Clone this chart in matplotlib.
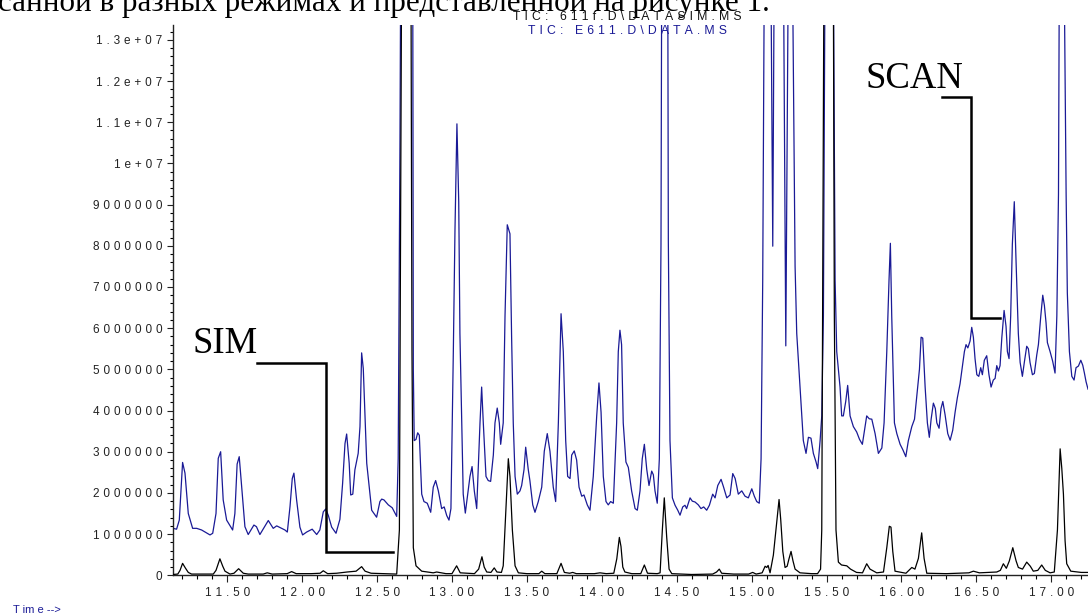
import matplotlib
matplotlib.use('Agg')
import matplotlib.pyplot as plt
from matplotlib.ticker import FixedLocator, FixedFormatter, MultipleLocator

# ---- data (intensity in millions of counts) ----
scan_time = [11.138, 11.162, 11.180, 11.202, 11.218, 11.240, 11.269, 11.296, 11.329, 11.385, 11.403, 11.425,
             11.440, 11.456, 11.473, 11.496, 11.536, 11.551, 11.566, 11.580, 11.596, 11.618, 11.640, 11.678,
             11.695, 11.718, 11.774, 11.807, 11.830, 11.885, 11.901, 11.919, 11.934, 11.945, 11.963, 11.985,
             12.003, 12.030, 12.067, 12.097, 12.118, 12.141, 12.157, 12.175, 12.197, 12.226, 12.252, 12.270,
             12.286, 12.297, 12.314, 12.324, 12.338, 12.352, 12.374, 12.386, 12.397, 12.408, 12.431, 12.464,
             12.497, 12.519, 12.531, 12.546, 12.575, 12.601, 12.631, 12.641, 12.653, 12.658, 12.738, 12.742,
             12.748, 12.760, 12.771, 12.782, 12.798, 12.813, 12.835, 12.858, 12.875, 12.891, 12.909, 12.931,
             12.948, 12.965, 12.980, 12.993, 13.009, 13.020, 13.033, 13.045, 13.053, 13.065, 13.075, 13.089,
             13.102, 13.120, 13.134, 13.149, 13.165, 13.187, 13.198, 13.209, 13.227, 13.242, 13.258, 13.276,
             13.287, 13.302, 13.316, 13.325, 13.342, 13.354, 13.369, 13.387, 13.398, 13.409, 13.421, 13.436,
             13.454, 13.465, 13.481, 13.492, 13.509, 13.520, 13.539, 13.554, 13.576, 13.599, 13.616, 13.636,
             13.654, 13.676, 13.692, 13.710, 13.728, 13.743, 13.759, 13.772, 13.788, 13.799, 13.816, 13.832,
             13.848, 13.866, 13.881, 13.903, 13.921, 13.943, 13.966, 13.981, 13.995, 14.010, 14.028, 14.043,
             14.059, 14.077, 14.099, 14.110, 14.121, 14.132, 14.143, 14.161, 14.177, 14.199, 14.222, 14.237,
             14.255, 14.270, 14.284, 14.300, 14.315, 14.333, 14.344, 14.355, 14.370, 14.384, 14.395, 14.400,
             14.440, 14.444, 14.455, 14.471, 14.489, 14.507, 14.522, 14.540, 14.555, 14.566, 14.589, 14.604,
             14.622, 14.644, 14.662, 14.680, 14.700, 14.718, 14.740, 14.756, 14.774, 14.796, 14.812, 14.834,
             14.856, 14.874, 14.890, 14.911, 14.934, 14.956, 14.978, 15.001, 15.018, 15.034, 15.051, 15.063,
             15.074, 15.085, 15.128, 15.141, 15.151, 15.212, 15.228, 15.245, 15.272, 15.290, 15.301, 15.323,
             15.345, 15.363, 15.379, 15.396, 15.412, 15.430, 15.441, 15.457, 15.468, 15.479, 15.490, 15.545,
             15.557, 15.568, 15.590, 15.601, 15.612, 15.628, 15.641, 15.657, 15.679, 15.701, 15.720, 15.739,
             15.757, 15.768, 15.785, 15.802, 15.824, 15.846, 15.869, 15.884, 15.902, 15.917, 15.926, 15.935,
             15.953, 15.969, 15.991, 16.009, 16.029, 16.046, 16.069, 16.087, 16.106, 16.120, 16.131, 16.142,
             16.158, 16.173, 16.186, 16.198, 16.213, 16.226, 16.236, 16.251, 16.264, 16.276, 16.291, 16.309,
             16.325, 16.342, 16.358, 16.373, 16.391, 16.407, 16.420, 16.431, 16.443, 16.458, 16.469, 16.480,
             16.491, 16.503, 16.516, 16.529, 16.540, 16.553, 16.569, 16.584, 16.598, 16.613, 16.625, 16.636,
             16.647, 16.658, 16.670, 16.685, 16.698, 16.707, 16.718, 16.729, 16.740, 16.753, 16.765, 16.780,
             16.792, 16.807, 16.820, 16.836, 16.847, 16.858, 16.874, 16.887, 16.903, 16.914, 16.930, 16.943,
             16.954, 16.965, 16.974, 16.992, 17.009, 17.025, 17.037, 17.048, 17.054, 17.085, 17.092, 17.099,
             17.107, 17.121, 17.137, 17.152, 17.165, 17.181, 17.197, 17.210, 17.221, 17.232, 17.245]
scan_signal = [1.14, 1.12, 1.34, 2.74, 2.48, 1.50, 1.14, 1.14, 1.10, 0.98, 1.02, 1.50,
               2.84, 3.00, 1.83, 1.34, 1.10, 1.50, 2.70, 2.88, 2.15, 1.18, 0.99, 1.22,
               1.18, 0.99, 1.33, 1.14, 1.20, 1.10, 1.05, 1.67, 2.35, 2.48, 1.83, 1.17,
               0.98, 1.05, 1.12, 0.99, 1.10, 1.54, 1.61, 1.45, 1.17, 1.02, 1.36, 2.23,
               3.20, 3.43, 2.72, 1.95, 1.97, 2.56, 2.96, 3.61, 5.40, 5.02, 2.72, 1.58,
               1.41, 1.79, 1.85, 1.83, 1.71, 1.64, 1.43, 2.83, 10.6, 15.0, 15.0, 5.00,
               3.27, 3.30, 3.46, 3.40, 1.97, 1.79, 1.75, 1.53, 2.14, 2.30, 2.05, 1.62,
               1.66, 1.45, 1.34, 1.62, 5.43, 8.38, 10.96, 9.07, 5.87, 3.70, 1.97, 1.51,
               1.88, 2.40, 2.64, 2.05, 1.62, 3.70, 4.57, 3.70, 2.40, 2.30, 2.28, 2.92,
               3.70, 4.06, 3.70, 3.18, 3.70, 6.30, 8.51, 8.29, 5.78, 3.70, 2.40, 1.97,
               2.05, 2.18, 2.57, 3.11, 2.57, 2.30, 1.71, 1.53, 1.79, 2.14, 3.01, 3.44,
               3.01, 2.14, 1.79, 3.70, 6.35, 5.43, 3.27, 2.40, 2.35, 2.92, 3.02, 2.80,
               2.14, 1.92, 1.95, 1.71, 1.58, 2.40, 3.87, 4.67, 3.96, 2.40, 1.79, 1.71,
               1.79, 1.75, 3.70, 5.43, 5.95, 5.60, 3.70, 2.75, 2.62, 2.05, 1.62, 1.58,
               2.05, 2.83, 3.18, 2.57, 2.18, 2.53, 2.44, 2.05, 1.75, 2.83, 8.03, 15.0,
               15.0, 8.12, 3.27, 1.88, 1.70, 1.58, 1.46, 1.66, 1.70, 1.62, 1.88, 1.80,
               1.78, 1.71, 1.62, 1.66, 1.58, 1.70, 1.97, 1.88, 2.18, 2.33, 2.15, 1.88,
               1.95, 2.47, 2.35, 1.97, 2.05, 1.92, 1.88, 2.10, 1.92, 1.79, 1.75, 2.83,
               7.17, 15.0, 15.0, 7.99, 15.0, 15.0, 5.57, 15.0, 15.0, 7.50, 5.87, 4.57,
               3.27, 2.96, 3.35, 3.33, 2.96, 2.75, 2.59, 3.27, 3.87, 6.30, 15.0, 15.0,
               7.17, 5.43, 4.57, 3.87, 3.87, 4.22, 4.61, 3.87, 3.61, 3.48, 3.30, 3.18,
               3.61, 3.87, 3.80, 3.79, 3.44, 2.96, 3.09, 3.70, 5.43, 7.17, 8.06, 6.30,
               3.70, 3.44, 3.18, 3.05, 2.88, 3.27, 3.61, 3.79, 4.48, 5.00, 5.78, 5.76,
               4.57, 3.70, 3.35, 3.79, 4.18, 4.05, 3.70, 3.57, 4.05, 4.22, 3.90, 3.44,
               3.28, 3.52, 3.96, 4.31, 4.65, 5.09, 5.43, 5.60, 5.52, 5.69, 6.02, 5.78,
               5.26, 4.87, 4.83, 5.04, 4.87, 5.22, 5.33, 4.87, 4.57, 4.74, 4.78, 5.09,
               4.96, 5.09, 5.78, 6.43, 6.04, 5.43, 5.26, 6.30, 8.03, 9.07, 7.60, 5.87,
               5.17, 4.83, 5.17, 5.56, 5.50, 5.17, 4.87, 4.90, 5.35, 5.60, 6.30, 6.80,
               6.55, 6.13, 5.65, 5.43, 5.20, 4.91, 6.30, 9.25, 15.0, 15.0, 12.2, 9.25,
               6.86, 5.43, 4.83, 4.74, 5.04, 5.08, 5.22, 5.10, 4.91, 4.70, 4.52]

sim_time = [11.138, 11.170, 11.185, 11.202, 11.220, 11.240, 11.262, 11.407, 11.425, 11.451, 11.470, 11.485,
            11.518, 11.545, 11.576, 11.607, 11.640, 11.740, 11.767, 11.800, 11.900, 11.930, 11.960, 12.060,
            12.120, 12.141, 12.170, 12.230, 12.300, 12.360, 12.397, 12.420, 12.460, 12.631, 12.649, 12.664,
            12.726, 12.733, 12.742, 12.760, 12.798, 12.875, 12.898, 12.960, 13.000, 13.031, 13.055, 13.150,
            13.178, 13.200, 13.215, 13.232, 13.260, 13.282, 13.300, 13.330, 13.342, 13.365, 13.376, 13.387,
            13.403, 13.421, 13.443, 13.500, 13.580, 13.599, 13.620, 13.700, 13.728, 13.750, 13.785, 13.806,
            13.830, 13.950, 13.988, 14.030, 14.080, 14.100, 14.117, 14.128, 14.140, 14.154, 14.200, 14.260,
            14.284, 14.305, 14.370, 14.389, 14.404, 14.417, 14.433, 14.449, 14.467, 14.600, 14.740, 14.766,
            14.784, 14.800, 14.880, 14.980, 15.007, 15.030, 15.070, 15.090, 15.101, 15.110, 15.123, 15.145,
            15.167, 15.183, 15.194, 15.208, 15.223, 15.237, 15.250, 15.263, 15.276, 15.290, 15.323, 15.400,
            15.440, 15.460, 15.468, 15.483, 15.545, 15.552, 15.563, 15.579, 15.600, 15.635, 15.660, 15.700,
            15.740, 15.768, 15.790, 15.835, 15.880, 15.902, 15.919, 15.930, 15.942, 15.957, 16.030, 16.069,
            16.090, 16.113, 16.135, 16.151, 16.169, 16.300, 16.450, 16.480, 16.520, 16.636, 16.660, 16.680,
            16.700, 16.720, 16.743, 16.765, 16.780, 16.808, 16.836, 16.860, 16.880, 16.910, 16.936, 16.960,
            16.992, 17.020, 17.041, 17.059, 17.070, 17.081, 17.092, 17.103, 17.130, 17.200, 17.245]
sim_signal = [0.02, 0.03, 0.12, 0.29, 0.18, 0.07, 0.03, 0.03, 0.12, 0.40, 0.22, 0.10,
              0.03, 0.05, 0.16, 0.05, 0.03, 0.03, 0.06, 0.03, 0.04, 0.09, 0.04, 0.04,
              0.05, 0.11, 0.04, 0.05, 0.08, 0.10, 0.21, 0.10, 0.05, 0.03, 1.10, 15.0,
              15.0, 5.43, 0.67, 0.23, 0.10, 0.06, 0.08, 0.04, 0.04, 0.23, 0.06, 0.04,
              0.15, 0.45, 0.20, 0.08, 0.07, 0.18, 0.08, 0.07, 0.23, 1.97, 2.83, 2.40,
              1.10, 0.23, 0.06, 0.04, 0.04, 0.10, 0.04, 0.04, 0.29, 0.07, 0.05, 0.07,
              0.04, 0.04, 0.06, 0.04, 0.05, 0.40, 0.92, 0.70, 0.20, 0.08, 0.04, 0.04,
              0.25, 0.05, 0.04, 0.06, 1.10, 1.88, 0.93, 0.15, 0.04, 0.02, 0.03, 0.08,
              0.15, 0.05, 0.03, 0.03, 0.07, 0.03, 0.06, 0.22, 0.19, 0.24, 0.06, 0.49,
              1.27, 1.84, 1.36, 0.58, 0.19, 0.22, 0.41, 0.58, 0.35, 0.15, 0.06, 0.04,
              0.04, 0.15, 1.10, 15.0, 15.0, 6.30, 1.10, 0.32, 0.25, 0.23, 0.15, 0.07,
              0.06, 0.28, 0.15, 0.06, 0.08, 0.67, 1.19, 1.17, 0.58, 0.10, 0.05, 0.19,
              0.15, 0.41, 1.03, 0.41, 0.05, 0.04, 0.06, 0.10, 0.06, 0.08, 0.12, 0.28,
              0.17, 0.35, 0.67, 0.35, 0.19, 0.15, 0.32, 0.22, 0.10, 0.12, 0.25, 0.12,
              0.06, 0.08, 1.10, 3.07, 2.60, 1.97, 0.84, 0.28, 0.10, 0.07, 0.07]

x_ticks = [11.5, 12.0, 12.5, 13.0, 13.5, 14.0, 14.5, 15.0, 15.5, 16.0, 16.5, 17.0]
x_tick_labels = ['11.50', '12.00', '12.50', '13.00', '13.50', '14.00', '14.50', '15.00', '15.50',
                 '16.00', '16.50', '17.00']
y_ticks = [0, 1e6, 2e6, 3e6, 4e6, 5e6, 6e6, 7e6, 8e6, 9e6, 1e7, 1.1e7, 1.2e7, 1.3e7]
y_tick_labels = ['0', '1000000', '2000000', '3000000', '4000000', '5000000', '6000000', '7000000',
                 '8000000', '9000000', '1e+07', '1.1e+07', '1.2e+07', '1.3e+07']

SCALE = 1e6
SP = '\u2004'
SANS = ['Liberation Sans', 'DejaVu Sans']
SERIF = ['Liberation Serif', 'DejaVu Serif']
BLUE = '#1a1a96'


def spaced(s):
    return SP.join(s)


W, H = 1088, 616
fig = plt.figure(figsize=(W / 100, H / 100), dpi=100)
ax = fig.add_axes([173 / W, (H - 575.3) / H, (W - 173) / W, (575.3 - 25) / H])

ax.plot(scan_time, [v * SCALE for v in scan_signal], color=BLUE, lw=0.9, zorder=2)
ax.plot(sim_time, [v * SCALE for v in sim_signal], color='black', lw=0.9, zorder=3)

ax.set_xlim(11.138, 17.245)
ax.set_ylim(0, 13.36e6)

for s in ['top', 'right']:
    ax.spines[s].set_visible(False)
for s in ['left', 'bottom']:
    ax.spines[s].set_linewidth(1.0)
    ax.spines[s].set_color('#222222')

ax.xaxis.set_major_locator(FixedLocator(x_ticks))
ax.xaxis.set_major_formatter(FixedFormatter([spaced(t) for t in x_tick_labels]))
ax.xaxis.set_minor_locator(MultipleLocator(0.1))
ax.yaxis.set_major_locator(FixedLocator(y_ticks))
ax.yaxis.set_major_formatter(FixedFormatter([spaced(t) for t in y_tick_labels]))
ax.yaxis.set_minor_locator(MultipleLocator(2e5))

ax.tick_params(axis='x', which='major', length=5, width=0.8, direction='out', pad=3.2,
               labelsize=8.5, colors='#222222')
ax.tick_params(axis='x', which='minor', length=3, width=0.8, direction='out')
ax.tick_params(axis='y', which='major', length=4, width=0.8, direction='out', pad=3.6,
               labelsize=8.5, colors='#222222')
ax.tick_params(axis='y', which='minor', length=2.5, width=0.8, direction='out')
for lab in ax.get_xticklabels() + ax.get_yticklabels():
    lab.set_family(SANS)

# callouts
ax.plot([11.696, 12.157, 12.157, 12.608], [5.146e6, 5.146e6, 0.573e6, 0.573e6],
        color='black', lw=1.8, solid_joinstyle='miter', zorder=4)
ax.text(11.271, 5.40e6, 'SIM', family=SERIF, fontsize=26.5, ha='left', va='baseline', zorder=5)
ax.plot([16.269, 16.463, 16.463, 16.658], [11.617e6, 11.617e6, 6.238e6, 6.238e6],
        color='black', lw=1.8, solid_joinstyle='miter', zorder=4)
ax.text(15.757, 11.83e6, 'SCAN', family=SERIF, fontsize=26.5, ha='left', va='baseline', zorder=5)

# header texts
fig.text(770 / W, 1 - 10.5 / H, 'санной в разных режимах и представленной на рисунке 1.',
         family=SERIF, fontsize=22.4, ha='right', va='baseline', color='black')
fig.text(627 / W, 1 - 17 / H, spaced('TIC: 611f.D\\DATASIM.MS'), family=SANS, fontsize=8.8,
         ha='center', va='center', color='#111111')
fig.text(628 / W, 1 - 31 / H, spaced('TIC: E611.D\\DATA.MS'), family=SANS, fontsize=8.8,
         ha='center', va='center', color=BLUE)
fig.text(13 / W, 1 - 610 / H, 'T im e -->', family=SANS, fontsize=8, ha='left', va='center',
         color=BLUE)

fig.savefig('out.png', dpi=100)
